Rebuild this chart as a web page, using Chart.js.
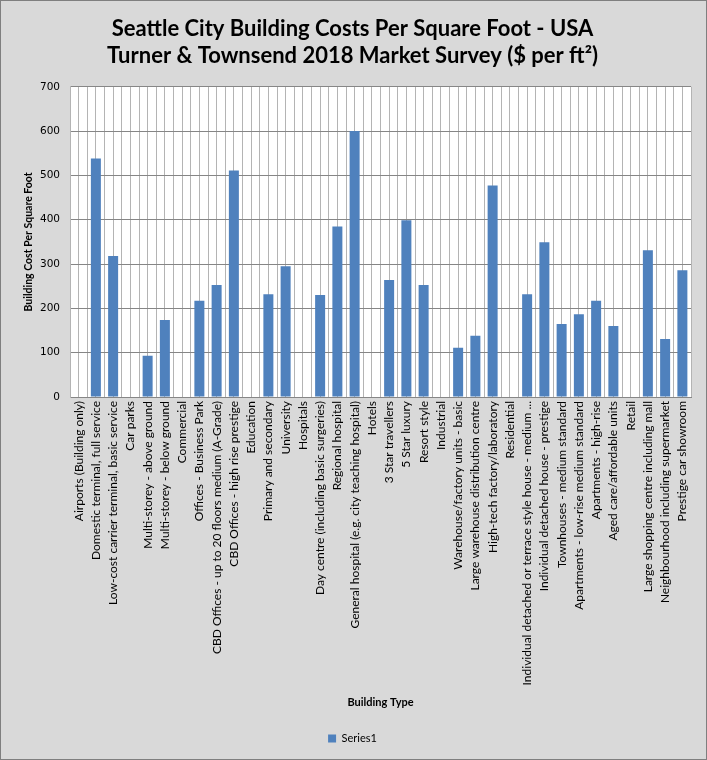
<!DOCTYPE html>
<html>
<head>
<meta charset="utf-8">
<script src="https://cdn.jsdelivr.net/npm/chart.js@4.4.1/dist/chart.umd.min.js"></script>
<style>
html,body{margin:0;padding:0;background:#d9d9d9;}
#wrap{width:707px;height:760px;position:relative;}
</style>
</head>
<body>
<div id="wrap"><canvas id="c" width="707" height="760"></canvas></div>
<script>
const categories = [
  "Airports (Building only)",
  "Domestic terminal, full service",
  "Low-cost carrier terminal, basic service",
  "Car parks",
  "Multi-storey - above ground",
  "Multi-storey - below ground",
  "Commercial",
  "Offices - Business Park",
  "CBD Offices - up to 20 floors medium (A-Grade)",
  "CBD Offices - high rise prestige",
  "Education",
  "Primary and secondary",
  "University",
  "Hospitals",
  "Day centre (including basic surgeries)",
  "Regional hospital",
  "General hospital (e.g. city teaching hospital)",
  "Hotels",
  "3 Star travellers",
  "5 Star luxury",
  "Resort style",
  "Industrial",
  "Warehouse/factory units - basic",
  "Large warehouse distribution centre",
  "High-tech factory/laboratory",
  "Residential",
  "Individual detached or terrace style house - medium ...",
  "Individual detached house - prestige",
  "Townhouses - medium standard",
  "Apartments - low-rise medium standard",
  "Apartments - high-rise",
  "Aged care/affordable units",
  "Retail",
  "Large shopping centre including mall",
  "Neighbourhood including supermarket",
  "Prestige car showroom"
];
const series1 = [
  null, 538, 318, null, 93, 174, null, 217, 253, 511,
  null, 232, 295, null, 230, 385, 600, null, 264, 399,
  253, null, 111, 138, 477, null, 232, 349, 165, 187,
  217, 160, null, 331, 131, 286
];
const yTicks = [0, 100, 200, 300, 400, 500, 600, 700];
const titleLines = ["Seattle City Building Costs Per Square Foot - USA", "Turner & Townsend 2018 Market Survey ($ per ft\u00B2)"];

const bgPlugin = {
  id: 'bg',
  beforeDraw(chart) {
    const ctx = chart.ctx, a = chart.chartArea;
    ctx.save();
    ctx.fillStyle = '#d9d9d9';
    ctx.fillRect(0, 0, chart.width, chart.height);
    ctx.strokeStyle = '#7f7f7f';
    ctx.lineWidth = 1;
    ctx.strokeRect(0.5, 0.5, chart.width - 1, chart.height - 1);
    ctx.fillStyle = '#ffffff';
    ctx.fillRect(a.left, a.top, a.right - a.left, a.bottom - a.top);
    ctx.restore();
  }
};

new Chart(document.getElementById('c'), {
  type: 'bar',
  data: {
    labels: categories,
    datasets: [{
      label: 'Series1',
      data: series1,
      backgroundColor: '#4f81bd',
      borderWidth: 0,
      categoryPercentage: 1.0,
      barPercentage: 0.58
    }]
  },
  plugins: [bgPlugin],
  options: {
    responsive: false,
    animation: false,
    devicePixelRatio: 1,
    layout: { padding: { left: 14, right: 16, top: 4, bottom: 6 } },
    plugins: {
      title: {
        display: true,
        text: titleLines,
        color: '#000',
        font: { family: 'Lato', size: 22, weight: 'bold', lineHeight: 1.2 },
        padding: { top: 12, bottom: 18 }
      },
      legend: {
        display: true,
        position: 'bottom',
        labels: {
          color: '#000',
          font: { family: 'Lato', size: 11 },
          boxWidth: 8,
          boxHeight: 8,
          padding: 10
        }
      },
      tooltip: { enabled: false }
    },
    scales: {
      x: {
        type: 'category',
        offset: true,
        grid: { offset: true, color: '#b4b4b4', drawTicks: false, lineWidth: 1 },
        border: { color: '#868686' },
        ticks: {
          autoSkip: false,
          maxRotation: 90,
          minRotation: 90,
          color: '#000',
          padding: 4,
          font: { family: 'Lato', size: 12 }
        },
        title: {
          display: true,
          text: 'Building Type',
          color: '#000',
          font: { family: 'Lato', size: 11, weight: 'bold' },
          padding: { top: 4, bottom: 14 }
        },
        afterFit(s) { s.height = 326; }
      },
      x2: {
        type: 'category',
        position: 'top',
        offset: true,
        grid: { offset: false, color: '#b4b4b4', drawTicks: false, lineWidth: 1 },
        border: { display: false },
        ticks: { display: false },
        afterFit(s) { s.height = 0; }
      },
      y: {
        min: 0,
        max: 700,
        afterBuildTicks(s) { s.ticks = yTicks.map(v => ({ value: v })); },
        grid: { color: '#868686', drawTicks: false },
        border: { color: '#b4b4b4' },
        ticks: {
          color: '#000',
          padding: 10,
          font: { family: 'DejaVu Sans', size: 10.5 }
        },
        title: {
          display: true,
          text: 'Building Cost Per Square Foot',
          color: '#000',
          font: { family: 'Lato', size: 10.5, weight: 'bold' },
          padding: { top: 8, bottom: 4 }
        },
        afterFit(s) { s.width = 56; }
      }
    }
  }
});
</script>
</body>
</html>
